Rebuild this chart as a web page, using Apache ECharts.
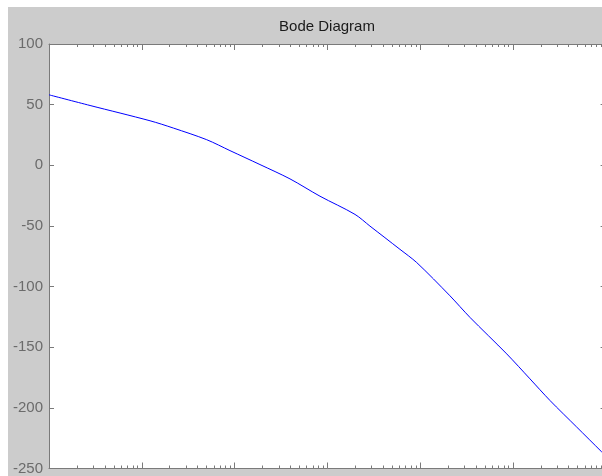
<!DOCTYPE html>
<html>
<head>
<meta charset="utf-8">
<script src="https://cdn.jsdelivr.net/npm/echarts@6/dist/echarts.min.js"></script>
<style>
html,body{margin:0;padding:0;width:602px;height:476px;overflow:hidden;background:#ffffff;}
#chart{position:absolute;left:8px;top:7px;width:600px;height:469px;}
</style>
</head>
<body>
<div id="chart"></div>
<script>
// Frequencies (rad/s, log axis) and magnitude (dB)
const freq = [0.01, 0.0277, 0.1228, 0.219, 0.501, 0.893, 1.88, 3.96, 8.34, 19.9, 28.8, 60.7, 92.0, 210, 345, 859, 1531, 2512, 4877, 9078, 10000];
const magDb = [58.1, 49.3, 36.7, 30.7, 21.1, 12.1, 0.6, -11.2, -25.5, -40.5, -50.1, -69.3, -80.2, -107.6, -125.4, -155.5, -176.1, -193.9, -215.8, -236.3, -239.5];

const titleText = 'Bode Diagram';
const xMin = 0.01, xMax = 10000;
const yMin = -250, yMax = 100, yStep = 50;
const decades = [0.01, 0.1, 1, 10, 100, 1000, 10000];
const minorMult = [2, 3, 4, 5, 6, 7, 8, 9];

const minorTicks = [];
decades.slice(0, -1).forEach(d => minorMult.forEach(m => minorTicks.push(+(d * m).toPrecision(6))));

const axisColor = '#7a7a7a';
function xAx(pos, ticks, len, showLine) {
  return {
    type: 'log', logBase: 10, min: xMin, max: xMax, position: pos, offset: 0,
    axisLine: {show: showLine, onZero: false, lineStyle: {color: axisColor, width: 1}},
    axisTick: {show: true, inside: true, length: len, customValues: ticks, lineStyle: {color: axisColor, width: 1}},
    axisLabel: {show: false},
    splitLine: {show: false}, minorTick: {show: false}, minorSplitLine: {show: false}
  };
}

const chart = echarts.init(document.getElementById('chart'), null, {renderer: 'canvas'});
chart.setOption({
  animation: false,
  backgroundColor: '#cccccc',
  grid: {left: 41, top: 37, right: 2.4, bottom: 6, show: true, backgroundColor: '#ffffff', borderWidth: 0},
  graphic: [{
    type: 'text', x: 319, y: 20,
    style: {text: titleText, align: 'center', verticalAlign: 'middle',
            font: '15px Arial, "Liberation Sans", sans-serif', fill: '#1a1a1a'}
  }],
  xAxis: [
    xAx('bottom', decades, 6, true),
    xAx('bottom', minorTicks, 3, false),
    xAx('top', decades, 6, true),
    xAx('top', minorTicks, 3, false)
  ],
  yAxis: [{
    type: 'value', min: yMin, max: yMax, interval: yStep, position: 'left',
    axisLine: {show: true, onZero: false, lineStyle: {color: axisColor, width: 1}},
    axisTick: {show: true, inside: true, length: 5, lineStyle: {color: axisColor}},
    axisLabel: {show: true, margin: 6, color: '#6b6b6b', fontSize: 15, fontFamily: 'Arial, "Liberation Sans", sans-serif'},
    splitLine: {show: false}
  }, {
    type: 'value', min: yMin, max: yMax, interval: yStep, position: 'right',
    axisLine: {show: true, onZero: false, lineStyle: {color: axisColor, width: 1}},
    axisTick: {show: true, inside: true, length: 5, lineStyle: {color: axisColor}},
    axisLabel: {show: false},
    splitLine: {show: false}
  }],
  series: [{
    type: 'line', xAxisIndex: 0, yAxisIndex: 0,
    data: freq.map((f, i) => [f, magDb[i]]),
    showSymbol: false, smooth: 0.3,
    lineStyle: {color: '#0000ff', width: 1}
  }]
});
</script>
</body>
</html>
